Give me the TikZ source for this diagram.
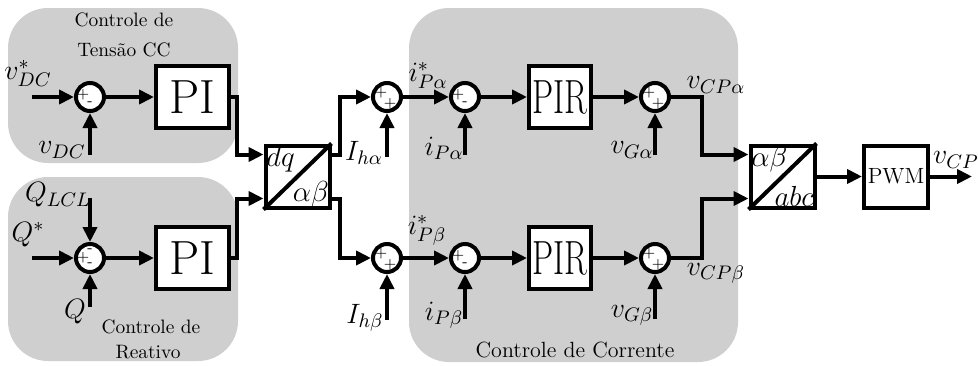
\documentclass[tikz,border=0pt]{standalone}
\usepackage{fix-cm}
\usetikzlibrary{arrows.meta,positioning}

\tikzset{
  blk/.style={rectangle, draw=black, line width=2pt, fill=white, minimum width=36.5pt, minimum height=31pt, inner sep=0pt},
  conv/.style={blk, minimum width=32pt},
  sumj/.style={circle, draw=black, line width=2pt, fill=white, minimum size=14pt, inner sep=0pt},
  zone/.style={fill=black!19, rounded corners=20pt},
  sig/.style={line width=2pt, -{Triangle[length=7.5pt,width=7pt]}},
  lbl/.style={font=\fontsize{14}{14}\selectfont, inner sep=0pt},
  pm/.style={font=\fontsize{7.5}{7.5}\selectfont, inner sep=0pt},
  title/.style={font=\fontsize{9.7}{9.7}\selectfont, inner sep=0pt},
  big/.style={font=\fontsize{24}{24}\selectfont},
  cvtxt/.style={font=\fontsize{14.5}{14.5}\selectfont, inner sep=1.2pt},
}

\begin{document}
\begin{tikzpicture}[x=1pt, y=-1pt]
  \useasboundingbox (0,0) rectangle (489,182.5);

  % shaded areas of the three controllers
  \fill[zone] (4,4) rectangle (119,81.5);
  \fill[zone] (4,88.5) rectangle (119,180.5);
  \fill[zone] (204.5,4) rectangle (369,181);

  \node[title] (tdc1) at (62,10) {Controle de};
  \node[title] (tdc2) at (62,25) {Tensão CC};
  \node[title] (tq1) at (75.5,163.5) {Controle de};
  \node[title] (tq2) at (74,176) {Reativo};
  \node[title, font=\fontsize{11}{11}\selectfont] (ti) at (287.5,175) {Controle de Corrente};

  % outer loops (dc voltage and reactive power)
  \node[sumj] (s1a) at (45,48.5) {};
  \node[blk, big, right=24pt of s1a] (pia) {PI};
  \node[sumj, below=64.5pt of s1a] (s1b) {};
  \node[blk, big, right=24pt of s1b] (pib) {PI};

  % dq -> alpha beta
  \node[conv] (dq) at (148.75,88.25) {};
  \draw[line width=2pt] (dq.south west) -- (dq.north east);
  \node[cvtxt, anchor=north west] (dqt) at (dq.north west) {$dq$};
  \node[cvtxt, anchor=south east] (dqb) at (dq.south east) {$\alpha\beta$};

  % current loops
  \node[sumj] (s2a) at (193.5,48.5) {};
  \node[sumj, below=64.5pt of s2a] (s2b) {};
  \node[sumj, right=23pt of s2a] (s3a) {};
  \node[blk, big, minimum width=31pt, right=23pt of s3a] (pira) {\scalebox{0.7}[1]{PIR}};
  \node[sumj, right=23pt of pira] (s4a) {};
  \node[sumj, right=23pt of s2b] (s3b) {};
  \node[blk, big, minimum width=31pt, right=23pt of s3b] (pirb) {\scalebox{0.7}[1]{PIR}};
  \node[sumj, right=23pt of pirb] (s4b) {};

  % alpha beta -> abc and modulator
  \node[conv] (abc) at (391.25,88.25) {};
  \draw[line width=2pt] (abc.south west) -- (abc.north east);
  \node[cvtxt, anchor=north west] (abct) at (abc.north west) {$\alpha\beta$};
  \node[cvtxt, anchor=south east] (abcb) at (abc.south east) {$abc$};
  \node[conv, right=22.75pt of abc, font=\fontsize{11}{11}\selectfont] (pwm) {PWM};

  % signs on the summing junctions
  \node[pm] (p1a) at ([xshift=-3.5pt,yshift=1pt]s1a.center) {+};
  \node[pm] (m1a) at ([yshift=-3.5pt]s1a.center) {-};
  \node[pm] (p1b) at ([xshift=-3.5pt]s1b.center) {+};
  \node[pm] (m1b) at ([yshift=3.5pt]s1b.center) {-};
  \node[pm] (n1b) at ([yshift=-3.5pt]s1b.center) {-};
  \node[pm] (p2a) at ([xshift=-3pt,yshift=2pt]s2a.center) {+};
  \node[pm] (q2a) at ([xshift=1.5pt,yshift=-3.5pt]s2a.center) {+};
  \node[pm] (p2b) at ([xshift=-3pt,yshift=2pt]s2b.center) {+};
  \node[pm] (q2b) at ([xshift=1.5pt,yshift=-3.5pt]s2b.center) {+};
  \node[pm] (p3a) at ([xshift=-3.5pt,yshift=1pt]s3a.center) {+};
  \node[pm] (m3a) at ([yshift=-3.5pt]s3a.center) {-};
  \node[pm] (p3b) at ([xshift=-3.5pt,yshift=1pt]s3b.center) {+};
  \node[pm] (m3b) at ([yshift=-3.5pt]s3b.center) {-};
  \node[pm] (p4a) at ([xshift=-3pt,yshift=2pt]s4a.center) {+};
  \node[pm] (q4a) at ([xshift=1.5pt,yshift=-3.5pt]s4a.center) {+};
  \node[pm] (p4b) at ([xshift=-3pt,yshift=2pt]s4b.center) {+};
  \node[pm] (q4b) at ([xshift=1.5pt,yshift=-3.5pt]s4b.center) {+};

  % free ends of the inputs
  \coordinate[left=21pt of s1a] (vdcref);
  \coordinate[below=21pt of s1a] (vdc);
  \coordinate[left=21pt of s1b] (qref);
  \coordinate[above=22pt of s1b] (qlcl);
  \coordinate[below=16.5pt of s1b] (qmeas);
  \coordinate[below=22pt of s2a] (iha);
  \coordinate[below=23pt of s2b] (ihb);
  \coordinate[below=21pt of s3a] (ipa);
  \coordinate[below=21pt of s4a] (vga);
  \coordinate[below=22.5pt of s3b] (ipb);
  \coordinate[below=22.5pt of s4b] (vgb);
  \coordinate[right=15.5pt of s4a] (ja);
  \coordinate[right=15.5pt of s4b] (jb);
  \coordinate[right=21pt of pwm] (vout);

  \draw[sig] (vdcref) -- (s1a);
  \draw[sig] (vdc) -- (s1a);
  \draw[sig] (s1a) -- (pia);
  \draw[sig] (qref) -- (s1b);
  \draw[sig] (qlcl) -- (s1b);
  \draw[sig] (qmeas) -- (s1b);
  \draw[sig] (s1b) -- (pib);
  \draw[sig] (pia.east) -- ++(3,0) |- ([yshift=11pt]dq.west);
  \draw[sig] (pib.east) -- ++(3,0) |- ([yshift=-11pt]dq.west);
  \draw[sig] ([yshift=11pt]dq.east) -- ++(4,0) |- (s2a);
  \draw[sig] ([yshift=-11pt]dq.east) -- ++(4,0) |- (s2b);
  \draw[sig] (iha) -- (s2a);
  \draw[sig] (ihb) -- (s2b);
  \draw[sig] (s2a) -- (s3a);
  \draw[sig] (s2b) -- (s3b);
  \draw[sig] (ipa) -- (s3a);
  \draw[sig] (ipb) -- (s3b);
  \draw[sig] (s3a) -- (pira);
  \draw[sig] (s3b) -- (pirb);
  \draw[sig] (pira) -- (s4a);
  \draw[sig] (pirb) -- (s4b);
  \draw[sig] (vga) -- (s4a);
  \draw[sig] (vgb) -- (s4b);
  \draw[sig] (s4a) -- (ja) |- ([yshift=11pt]abc.west);
  \draw[sig] (s4b) -- (jb) |- ([yshift=-11pt]abc.west);
  \draw[sig] (abc) -- (pwm);
  \draw[sig] (pwm) -- (vout);

  % signal names
  \node[lbl] (lvdcref) at (14,36.5) {$v_{DC}^{*}$};
  \node[lbl] (lvdc) at (31,75) {$v_{DC}$};
  \node[lbl] (lqlcl) at (29,97.5) {$Q_{LCL}$};
  \node[lbl] (lqref) at (14,117.5) {$Q^{*}$};
  \node[lbl] (lq) at (37.5,156) {$Q$};
  \node[lbl] (liha) at (182,76.5) {$I_{h\alpha}$};
  \node[lbl] (lihb) at (182.5,159) {$I_{h\beta}$};
  \node[lbl] (liparef) at (214,37.5) {$i_{P\alpha}^{*}$};
  \node[lbl] (lipa) at (222,74) {$i_{P\alpha}$};
  \node[lbl] (lvga) at (316,75) {$v_{G\alpha}$};
  \node[lbl] (lvcpa) at (358,42.5) {$v_{CP\alpha}$};
  \node[lbl] (lipbref) at (213.5,115) {$i_{P\beta}^{*}$};
  \node[lbl] (lipb) at (222,157.5) {$i_{P\beta}$};
  \node[lbl] (lvgb) at (316,157.5) {$v_{G\beta}$};
  \node[lbl] (lvcpb) at (358,136.5) {$v_{CP\beta}$};
  \node[lbl] (lvcp) at (478,80) {$v_{CP}$};
\end{tikzpicture}
\end{document}
